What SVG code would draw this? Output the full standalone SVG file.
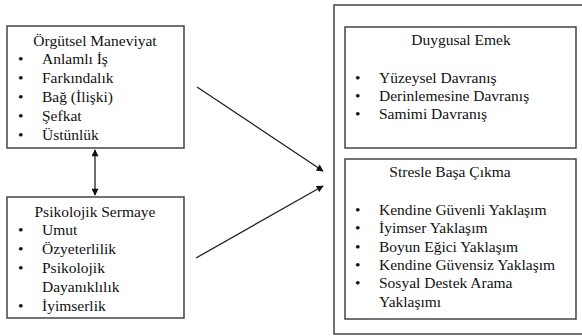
<svg xmlns="http://www.w3.org/2000/svg" width="582" height="336" viewBox="0 0 582 336">
<defs>
<style>
.box{fill:#fff;stroke:#444;stroke-width:1.5}
.ln{stroke:#222;stroke-width:1.3;fill:none}
</style>
<marker id="ah" viewBox="0 0 10 10" refX="9" refY="5" markerWidth="8" markerHeight="7" markerUnits="userSpaceOnUse" orient="auto-start-reverse">
<path d="M0,0 L10,5 L0,10 Z" fill="#111"/>
</marker>
</defs>
<rect width="582" height="336" fill="#fff"/>
<g id="outer">
<rect class="box" x="334" y="5" width="260" height="329"/>
</g>
<g font-family="Liberation Serif, Times New Roman, DejaVu Serif, serif" font-size="15.5" fill="#111">
<g id="orgutsel">
<rect class="box" x="7" y="26" width="177" height="122"/>
<text text-anchor="middle" x="95" y="46">Örgütsel Maneviyat</text>
<text x="18" y="64">•</text><text x="42" y="64">Anlamlı İş</text>
<text x="18" y="83">•</text><text x="42" y="83">Farkındalık</text>
<text x="18" y="102">•</text><text x="42" y="102">Bağ (İlişki)</text>
<text x="18" y="121">•</text><text x="42" y="121">Şefkat</text>
<text x="18" y="140">•</text><text x="42" y="140">Üstünlük</text>
</g>
<g id="psikolojik">
<rect class="box" x="7" y="197" width="177" height="121"/>
<text text-anchor="middle" x="95" y="217">Psikolojik Sermaye</text>
<text x="18" y="235">•</text><text x="42" y="235">Umut</text>
<text x="18" y="254">•</text><text x="42" y="254">Özyeterlilik</text>
<text x="18" y="273">•</text><text x="42" y="273">Psikolojik</text>
<text x="42" y="292">Dayanıklılık</text>
<text x="18" y="311">•</text><text x="42" y="311">İyimserlik</text>
</g>
<g id="duygusal">
<rect class="box" x="345" y="27" width="231" height="121"/>
<text text-anchor="middle" x="461" y="45">Duygusal Emek</text>
<text x="355" y="83">•</text><text x="379" y="83">Yüzeysel Davranış</text>
<text x="355" y="101">•</text><text x="379" y="101">Derinlemesine Davranış</text>
<text x="355" y="119">•</text><text x="379" y="119">Samimi Davranış</text>
</g>
<g id="stresle">
<rect class="box" x="345" y="159" width="231" height="160"/>
<text text-anchor="middle" x="450" y="177">Stresle Başa Çıkma</text>
<text x="355" y="215">•</text><text x="379" y="215">Kendine Güvenli Yaklaşım</text>
<text x="355" y="233">•</text><text x="379" y="233">İyimser Yaklaşım</text>
<text x="355" y="252">•</text><text x="379" y="252">Boyun Eğici Yaklaşım</text>
<text x="355" y="270">•</text><text x="379" y="270">Kendine Güvensiz Yaklaşım</text>
<text x="355" y="288">•</text><text x="379" y="288">Sosyal Destek Arama</text>
<text x="379" y="307">Yaklaşımı</text>
</g>
</g>
<g id="connectors">
<line class="ln" x1="95" y1="150" x2="95" y2="195" marker-start="url(#ah)" marker-end="url(#ah)"/>
<line class="ln" x1="197" y1="87" x2="323" y2="171" marker-end="url(#ah)"/>
<line class="ln" x1="196" y1="258" x2="323" y2="186" marker-end="url(#ah)"/>
</g>
</svg>
